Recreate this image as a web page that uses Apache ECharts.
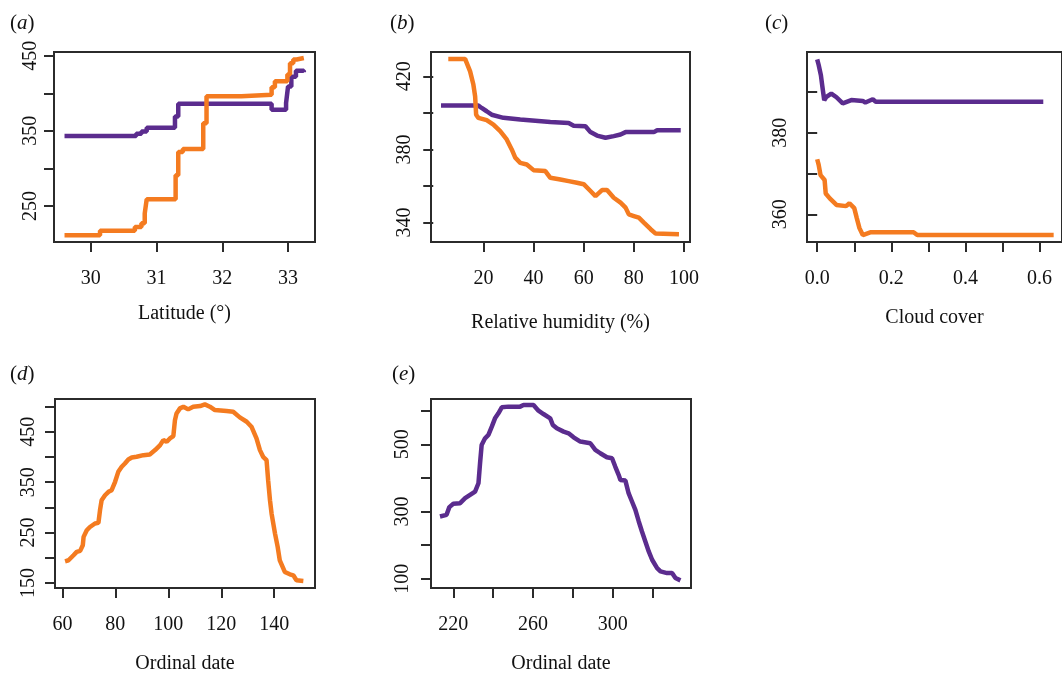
<!DOCTYPE html>
<html>
<head>
<meta charset="utf-8">
<script src="https://cdn.jsdelivr.net/npm/echarts@6/dist/echarts.min.js"></script>
<style>
  html, body { margin: 0; padding: 0; background: #fff; }
  #chart { width: 1062px; height: 675px; }
</style>
</head>
<body>
<div id="chart"></div>
<script>
// (a) latitude, step curves
var latOrange = [[29.60,211],[30.14,217],[30.67,222],[30.77,227],[30.82,240],[30.85,259],[31.29,291],[31.33,322],[31.40,326],[31.71,360],[31.76,396],[32.29,398],[32.75,408],[32.80,416],[32.99,425],[33.03,440],[33.08,445],[33.13,447],[33.24,447]];
var latPurple = [[29.60,343],[30.69,346],[30.77,349],[30.85,354],[31.28,369],[31.33,386],[32.75,378],[32.97,387],[33.00,409],[33.05,422],[33.12,430],[33.24,428]];

// (b) relative humidity
var humOrange = [[6,429.5],[12.7,429.5],[14.7,422.7],[16,415.5],[16.7,409],[17.1,399],[18,397.3],[21.3,396],[24,393.6],[26.7,390],[29.3,385.5],[31.3,380],[32.7,375.5],[34.7,372.7],[37.3,371.8],[40,368.7],[44.7,368.2],[46.7,364.5],[50.7,363.6],[54,362.7],[57.3,361.8],[60,361],[62.7,357.3],[64.7,354.5],[67.3,357.8],[69.3,357.8],[72,353.6],[74.7,350.9],[76.7,348.2],[78,344.5],[80,343.6],[82,342.7],[84,340],[86.7,336.4],[88.7,334],[98,333.6]];
var humPurple = [[3.1,404],[18,404],[19.3,402.7],[21.3,400.9],[23.3,399],[28,397.3],[34.7,396.4],[46.7,395],[54,394.5],[56,393],[60.7,392.7],[62.7,389.5],[65.3,387.6],[68.7,386.4],[72,387.3],[74.7,388.2],[76.7,389.5],[88,389.5],[89.3,390.5],[98.7,390.5]];

// (c) cloud cover
var cloudPurple = [[0.0,398],[0.004,396.6],[0.01,394.1],[0.014,391.3],[0.019,388],[0.025,388.8],[0.038,389.6],[0.052,388.7],[0.069,387.2],[0.092,388],[0.123,387.8],[0.13,387.4],[0.15,388.2],[0.158,387.6],[0.61,387.6]];
var cloudOrange = [[0.0,373.5],[0.004,372.1],[0.009,369.6],[0.02,368.4],[0.023,365.1],[0.034,363.9],[0.052,362.3],[0.078,362],[0.087,362.7],[0.1,361.5],[0.107,359],[0.114,356.6],[0.123,354.9],[0.145,355.6],[0.26,355.6],[0.27,354.9],[0.638,354.9]];

// (d) ordinal date, spring
var springOrange = [[61,193],[62.3,195],[64.2,205],[65.4,211.6],[66.7,213.6],[67.7,224.8],[68,241.4],[69.2,254.6],[70.4,261],[72.3,268],[73.6,269.2],[74.2,294.4],[74.8,314],[76.1,324],[77.4,330.8],[78.6,334],[79.9,350.7],[81.1,370.5],[82.4,380.5],[83.6,387],[84.9,395],[86.2,399],[88,400.3],[90.6,403.6],[93,405],[95,413.6],[96.9,423.5],[98.1,433.4],[99.4,430],[100.6,436.8],[101.9,441.4],[102.5,473],[103.1,486.4],[104.4,496.4],[105.7,499.7],[107.5,494.4],[109.4,499.7],[112,501],[113.8,504.3],[115.7,499.7],[117.6,493],[122,491],[124.5,489.7],[127,478.5],[129.6,469.9],[131.4,460],[133.3,436.8],[134.6,413.6],[135.8,400.3],[137.1,393.7],[137.7,354],[138.4,314],[139,287.7],[140.3,248],[141.3,221.5],[142.1,195],[144,171.9],[145.9,167.2],[147.2,165.2],[148.4,155.3],[151,154]];

// (e) ordinal date, autumn
var autumnPurple = [[213.3,285],[216.6,290],[218,313],[220,322.8],[223.4,324.8],[225.9,339.6],[228.4,349.5],[230.9,359.4],[232.6,384],[233.4,443.6],[234.2,498],[235.9,517.8],[237.6,527.7],[239.3,552.5],[240.9,577.2],[242.6,592],[244.3,610],[247.6,612],[253.5,612],[255.2,616.8],[260.2,616.8],[262.7,600],[265.2,590],[268.6,577.2],[269.9,557.4],[271.9,547.5],[275.3,537.6],[277.8,532.7],[280.3,520.8],[283.7,508],[288.7,503],[291.2,483.2],[293.7,473.3],[297,461.4],[299.6,458.4],[301.2,433.7],[302.9,409],[303.8,394],[306.3,392],[307.9,354.5],[309.6,329.7],[311.3,305],[313,270.3],[314.6,240.6],[316.3,211],[318,181.2],[319.7,156.4],[322.2,131.7],[323.9,121.8],[327.2,116.8],[329.7,116.8],[331.4,102],[333.9,95]];

// tick positions and labels
var xTicksA = [30, 31, 32, 33];
var yTicksA = [250, 300, 350, 400, 450];
var yLabelsA = [250, 350, 450];
var xTicksB = [20, 40, 60, 80, 100];
var yTicksB = [340, 360, 380, 400, 420];
var yLabelsB = [340, 380, 420];
var xTicksC = [0, 0.1, 0.2, 0.3, 0.4, 0.5, 0.6];
var xLabelsC = [0, 0.2, 0.4, 0.6];
var yTicksC = [360, 370, 380, 390];
var yLabelsC = [360, 380];
var xTicksD = [60, 80, 100, 120, 140];
var yTicksD = [150, 200, 250, 300, 350, 400, 450, 500];
var yLabelsD = [150, 250, 350, 450];
var xTicksE = [220, 240, 260, 280, 300, 320];
var xLabelsE = [220, 260, 300];
var yTicksE = [100, 200, 300, 400, 500, 600];
var yLabelsE = [100, 300, 500];

var ORANGE = '#F47B20';
var PURPLE = '#5B2C8E';
var FONT = 'Liberation Serif';

// panel frames: left, top, width, height and data ranges
var panels = [
    { tag: 'a', box: [54, 52, 261, 190], x: [29.44, 33.41], y: [202, 455], xt: xTicksA, xl: xTicksA, yt: yTicksA, yl: yLabelsA, name: 'Latitude (°)', gap: 62, ym: 13 },
    { tag: 'b', box: [431, 52, 259, 190], x: [-0.9, 102.4], y: [329.4, 433.3], xt: xTicksB, xl: xTicksB, yt: yTicksB, yl: yLabelsB, name: 'Relative humidity (%)', gap: 71, ym: 16 },
    { tag: 'c', box: [807, 52, 258, 190], x: [-0.0275, 0.6605], y: [353.2, 399.8], xt: xTicksC, xl: xLabelsC, yt: yTicksC, yl: yLabelsC, name: 'Cloud cover', gap: 66, ym: 16, dec: 1 },
    { tag: 'd', box: [55, 399, 260, 189], x: [57.2, 155.4], y: [140, 515], xt: xTicksD, xl: xTicksD, yt: yTicksD, yl: yLabelsD, name: 'Ordinal date', gap: 66, ym: 16 },
    { tag: 'e', box: [431, 399, 260, 189], x: [208.8, 339.2], y: [72.4, 634.7], xt: xTicksE, xl: xLabelsE, yt: yTicksE, yl: yLabelsE, name: 'Ordinal date', gap: 66, ym: 18 }
];
var tagPos = { a: [10, 13], b: [390, 13], c: [765, 13], d: [10, 364], e: [392, 364] };

var grids = [], xAxes = [], yAxes = [], titles = [];
panels.forEach(function (p, i) {
    grids.push({
        show: true, left: p.box[0], top: p.box[1], width: p.box[2], height: p.box[3],
        borderColor: '#2b2b2b', borderWidth: 2, backgroundColor: 'transparent'
    });
    xAxes.push({
        gridIndex: i, type: 'value', min: p.x[0], max: p.x[1],
        axisLine: { show: false },
        splitLine: { show: false },
        axisTick: { show: true, length: 10, customValues: p.xt, lineStyle: { color: '#2b2b2b', width: 2 } },
        axisLabel: {
            customValues: p.xl, margin: 27, fontFamily: FONT, fontSize: 20, color: '#111',
            formatter: function (v) { return p.dec ? v.toFixed(p.dec) : String(v); }
        },
        name: p.name, nameLocation: 'middle', nameGap: p.gap,
        nameTextStyle: { fontFamily: FONT, fontSize: 20, color: '#111' }
    });
    yAxes.push({
        gridIndex: i, type: 'value', min: p.y[0], max: p.y[1],
        axisLine: { show: false },
        splitLine: { show: false },
        axisTick: { show: true, length: 10, customValues: p.yt, lineStyle: { color: '#2b2b2b', width: 2 } },
        axisLabel: { customValues: p.yl, rotate: 90, margin: p.ym, fontFamily: FONT, fontSize: 20, color: '#111' }
    });
    titles.push({
        text: '{n|(}{it|' + p.tag + '}{n|)}',
        left: tagPos[p.tag][0], top: tagPos[p.tag][1], padding: 0,
        textStyle: {
            fontWeight: 'normal',
            rich: {
                n: { fontFamily: FONT, fontSize: 21, fontWeight: 'normal', color: '#111' },
                it: { fontFamily: FONT, fontSize: 21, fontWeight: 'normal', fontStyle: 'italic', color: '#111' }
            }
        }
    });
});

function makeLine(idx, data, color, step) {
    return {
        type: 'line', xAxisIndex: idx, yAxisIndex: idx, data: data,
        showSymbol: false, symbol: 'none', step: step || false, animation: false,
        lineStyle: { color: color, width: 4.5 }
    };
}

var chart = echarts.init(document.getElementById('chart'), null, { renderer: 'canvas' });
chart.setOption({
    animation: false,
    backgroundColor: '#fff',
    title: titles,
    grid: grids,
    xAxis: xAxes,
    yAxis: yAxes,
    series: [
        makeLine(0, latPurple, PURPLE, 'end'),
        makeLine(0, latOrange, ORANGE, 'end'),
        makeLine(1, humPurple, PURPLE),
        makeLine(1, humOrange, ORANGE),
        makeLine(2, cloudPurple, PURPLE),
        makeLine(2, cloudOrange, ORANGE),
        makeLine(3, springOrange, ORANGE),
        makeLine(4, autumnPurple, PURPLE)
    ]
});
</script>
</body>
</html>
